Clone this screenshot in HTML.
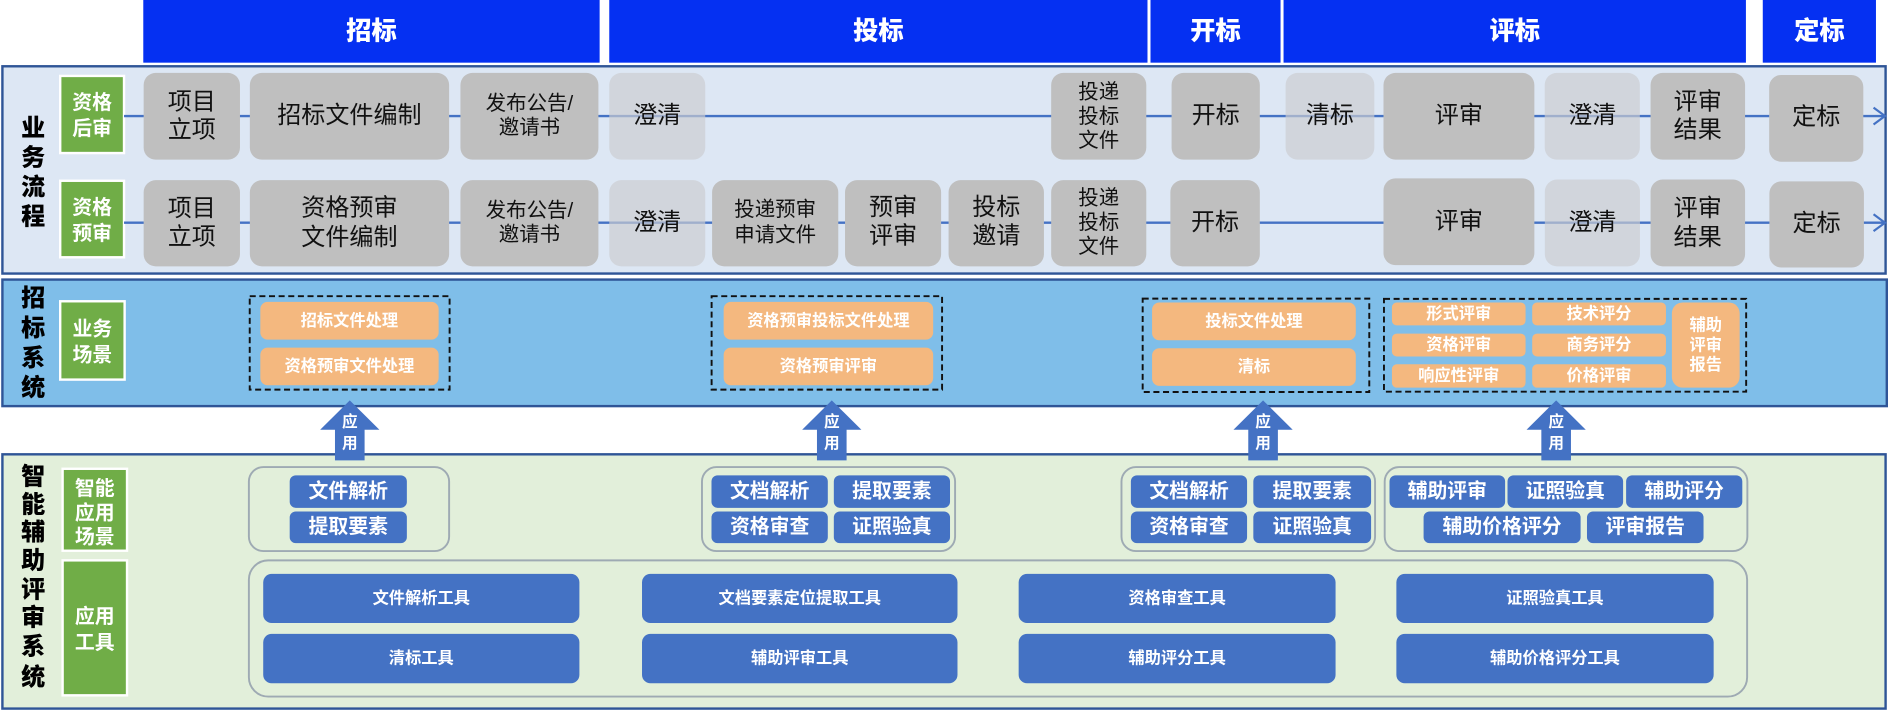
<!DOCTYPE html>
<html>
<head>
<meta charset="utf-8">
<style>
html,body{margin:0;padding:0;background:#fff;}
svg{display:block;}
text{font-family:"Liberation Sans","Noto Sans CJK SC",sans-serif;text-anchor:middle;dominant-baseline:central;}
.hd{font-size:21px;font-weight:900;fill:#fff;}
.vl{font-size:20px;font-weight:900;fill:#000;}
.gl{font-size:16.5px;font-weight:700;fill:#fff;}
.n{font-size:20px;fill:#111;}
.ns{font-size:17px;fill:#111;}
.or{font-size:13.5px;font-weight:700;fill:#fff;}
.bt{font-size:16.5px;font-weight:700;fill:#fff;}
.tl{font-size:13.5px;font-weight:700;fill:#fff;}
.ar{font-size:13px;font-weight:700;fill:#fff;}
.dk{fill:#bfbfbf;}
.lt{fill:#cbcdd0;fill-opacity:0.68;}
.gr{fill:#70ad47;stroke:#fff;stroke-width:2;}
.o{fill:#f4b87f;}
.b{fill:#4472c4;}
.dash{fill:none;stroke:#111;stroke-width:1.6;stroke-dasharray:5 3;}
.sc{fill:none;stroke:#9eaab3;stroke-width:1.6;}
</style>
</head>
<body>
<svg width="1888" height="711" viewBox="0 0 1568 590" preserveAspectRatio="none" xmlns="http://www.w3.org/2000/svg">
<rect x="0" y="0" width="1568" height="590" fill="#fff"/>

<!-- Headers -->
<rect x="119" y="0" width="379" height="52" fill="#0530f2"/>
<rect x="506" y="0" width="447" height="52" fill="#0530f2"/>
<rect x="955.5" y="0" width="108" height="52" fill="#0530f2"/>
<rect x="1066" y="0" width="384" height="52" fill="#0530f2"/>
<rect x="1464" y="0" width="94" height="52" fill="#0530f2"/>
<text class="hd" x="308.5" y="26">招标</text>
<text class="hd" x="729.5" y="26">投标</text>
<text class="hd" x="1009.5" y="26">开标</text>
<text class="hd" x="1258" y="26">评标</text>
<text class="hd" x="1511" y="26">定标</text>

<!-- Panel 1: 业务流程 -->
<rect x="2" y="55" width="1564" height="172" fill="#dde7f4" stroke="#2f5597" stroke-width="2"/>
<text class="vl" x="27.5" y="106.5">业</text>
<text class="vl" x="27.5" y="131">务</text>
<text class="vl" x="27.5" y="155.5">流</text>
<text class="vl" x="27.5" y="180">程</text>

<rect class="gr" x="50" y="63" width="53" height="64"/>
<text class="gl" x="76.5" y="85.5">资格</text>
<text class="gl" x="76.5" y="107">后审</text>
<rect class="gr" x="50" y="150" width="53" height="63.5"/>
<text class="gl" x="76.5" y="172.5">资格</text>
<text class="gl" x="76.5" y="194">预审</text>

<!-- connector lines -->
<line x1="103" y1="96.3" x2="1565" y2="96.3" stroke="#4472c4" stroke-width="2"/>
<line x1="103" y1="184.8" x2="1565" y2="184.8" stroke="#4472c4" stroke-width="2"/>
<polyline points="1556,89.3 1565.5,96.3 1556,103.3" fill="none" stroke="#4472c4" stroke-width="1.8"/>
<polyline points="1556,177.8 1565.5,184.8 1556,191.8" fill="none" stroke="#4472c4" stroke-width="1.8"/>

<!-- Row 1 nodes -->
<rect class="dk" x="119.3" y="60.5" width="80" height="72" rx="10"/>
<text class="n" x="159.3" y="84.5">项目</text>
<text class="n" x="159.3" y="108">立项</text>
<rect class="dk" x="207.5" y="60.5" width="165.5" height="72" rx="10"/>
<text class="n" x="290.2" y="96">招标文件编制</text>
<rect class="dk" x="382.4" y="60.5" width="114.6" height="72" rx="10"/>
<text class="ns" x="439.7" y="86">发布公告/</text>
<text class="ns" x="439.7" y="106">邀请书</text>
<rect class="lt" x="506" y="60.5" width="79.7" height="72" rx="10"/>
<text class="n" x="545.8" y="96">澄清</text>
<rect class="dk" x="873" y="60.5" width="79" height="72" rx="10"/>
<text class="ns" x="912.5" y="76.5">投递</text>
<text class="ns" x="912.5" y="96.5">投标</text>
<text class="ns" x="912.5" y="116.5">文件</text>
<rect class="dk" x="973" y="60.5" width="73.3" height="72" rx="10"/>
<text class="n" x="1009.6" y="96">开标</text>
<rect class="lt" x="1067.7" y="60.5" width="73.7" height="72" rx="10"/>
<text class="n" x="1104.5" y="96">清标</text>
<rect class="dk" x="1149" y="60.5" width="125.3" height="72" rx="10"/>
<text class="n" x="1211.6" y="96">评审</text>
<rect class="lt" x="1282.9" y="60.5" width="79" height="72" rx="10"/>
<text class="n" x="1322.4" y="96">澄清</text>
<rect class="dk" x="1370.8" y="60.5" width="78.5" height="72" rx="10"/>
<text class="n" x="1410" y="84.5">评审</text>
<text class="n" x="1410" y="108">结果</text>
<rect class="dk" x="1469.3" y="62.2" width="78.2" height="72" rx="10"/>
<text class="n" x="1508.4" y="97">定标</text>

<!-- Row 2 nodes -->
<rect class="dk" x="119.3" y="149.5" width="80" height="71.5" rx="10"/>
<text class="n" x="159.3" y="173">项目</text>
<text class="n" x="159.3" y="196.5">立项</text>
<rect class="dk" x="207.5" y="149.5" width="165.5" height="71.5" rx="10"/>
<text class="n" x="290.2" y="172.5">资格预审</text>
<text class="n" x="290.2" y="197">文件编制</text>
<rect class="dk" x="382.4" y="149.5" width="114.6" height="71.5" rx="10"/>
<text class="ns" x="439.7" y="174.5">发布公告/</text>
<text class="ns" x="439.7" y="194.5">邀请书</text>
<rect class="lt" x="506" y="149.5" width="79.7" height="71.5" rx="10"/>
<text class="n" x="545.8" y="184.5">澄清</text>
<rect class="dk" x="591.4" y="149.5" width="104.8" height="71.5" rx="10"/>
<text class="ns" x="643.8" y="174">投递预审</text>
<text class="ns" x="643.8" y="195">申请文件</text>
<rect class="dk" x="701.8" y="149.5" width="79.8" height="71.5" rx="10"/>
<text class="n" x="741.7" y="172">预审</text>
<text class="n" x="741.7" y="196">评审</text>
<rect class="dk" x="787.8" y="149.5" width="79.2" height="71.5" rx="10"/>
<text class="n" x="827.4" y="172">投标</text>
<text class="n" x="827.4" y="196">邀请</text>
<rect class="dk" x="873" y="149.5" width="79" height="71.5" rx="10"/>
<text class="ns" x="912.5" y="164.5">投递</text>
<text class="ns" x="912.5" y="184.5">投标</text>
<text class="ns" x="912.5" y="204.5">文件</text>
<rect class="dk" x="972" y="149.5" width="74.3" height="71.5" rx="10"/>
<text class="n" x="1009.1" y="184.5">开标</text>
<rect class="dk" x="1149" y="148" width="125.3" height="72" rx="10"/>
<text class="n" x="1211.6" y="184">评审</text>
<rect class="lt" x="1283" y="149" width="79" height="72" rx="10"/>
<text class="n" x="1322.5" y="184.5">澄清</text>
<rect class="dk" x="1370.8" y="149" width="78.5" height="72" rx="10"/>
<text class="n" x="1410" y="173">评审</text>
<text class="n" x="1410" y="197">结果</text>
<rect class="dk" x="1469.5" y="150.5" width="78.5" height="71.5" rx="10"/>
<text class="n" x="1508.7" y="185.5">定标</text>

<!-- Panel 2: 招标系统 -->
<rect x="2" y="232" width="1565" height="105" fill="#7fbee9" stroke="#2f5597" stroke-width="2"/>
<text class="vl" x="27.5" y="247.6">招</text>
<text class="vl" x="27.5" y="272.4">标</text>
<text class="vl" x="27.5" y="297.3">系</text>
<text class="vl" x="27.5" y="322">统</text>
<rect class="gr" x="50" y="250" width="53.5" height="65"/>
<text class="gl" x="76.7" y="273.5">业务</text>
<text class="gl" x="76.7" y="295">场景</text>

<rect class="dash" x="207.4" y="245.8" width="166" height="77.5"/>
<rect class="o" x="216.2" y="250.5" width="148.1" height="31.3" rx="6"/>
<text class="or" x="290.2" y="266.2">招标文件处理</text>
<rect class="o" x="216.2" y="288.5" width="148.1" height="31.2" rx="6"/>
<text class="or" x="290.2" y="304">资格预审文件处理</text>

<rect class="dash" x="591" y="245.8" width="191.4" height="77.5"/>
<rect class="o" x="601" y="250.5" width="174" height="31.3" rx="6"/>
<text class="or" x="688" y="266.2">资格预审投标文件处理</text>
<rect class="o" x="601" y="288.5" width="174" height="31.2" rx="6"/>
<text class="or" x="688" y="304">资格预审评审</text>

<rect class="dash" x="949" y="247.8" width="188.2" height="77.5"/>
<rect class="o" x="956.8" y="251" width="169.2" height="31.3" rx="6"/>
<text class="or" x="1041.4" y="266.6">投标文件处理</text>
<rect class="o" x="956.8" y="289" width="169.2" height="31.2" rx="6"/>
<text class="or" x="1041.4" y="304.6">清标</text>

<rect class="dash" x="1149.4" y="248" width="300.8" height="77"/>
<rect class="o" x="1156" y="251" width="111" height="19" rx="4"/>
<text class="or" x="1211.5" y="260.5">形式评审</text>
<rect class="o" x="1272.5" y="251" width="111.1" height="19" rx="4"/>
<text class="or" x="1328" y="260.5">技术评分</text>
<rect class="o" x="1156" y="276.8" width="111" height="19" rx="4"/>
<text class="or" x="1211.5" y="286.3">资格评审</text>
<rect class="o" x="1272.5" y="276.8" width="111.1" height="19" rx="4"/>
<text class="or" x="1328" y="286.3">商务评分</text>
<rect class="o" x="1156" y="302.3" width="111" height="19.4" rx="4"/>
<text class="or" x="1211.5" y="312">响应性评审</text>
<rect class="o" x="1272.5" y="302.3" width="111.1" height="19.4" rx="4"/>
<text class="or" x="1328" y="312">价格评审</text>
<rect class="o" x="1388.5" y="251" width="56.3" height="70.7" rx="9"/>
<text class="or" x="1416.6" y="270">辅助</text>
<text class="or" x="1416.6" y="286.6">评审</text>
<text class="or" x="1416.6" y="303">报告</text>

<!-- Panel 3: 智能辅助评审系统 -->
<rect x="2" y="377" width="1564" height="211" fill="#e2efda" stroke="#2f5597" stroke-width="2"/>
<text class="vl" x="27.5" y="396">智</text>
<text class="vl" x="27.5" y="419">能</text>
<text class="vl" x="27.5" y="442">辅</text>
<text class="vl" x="27.5" y="465.5">助</text>
<text class="vl" x="27.5" y="489.5">评</text>
<text class="vl" x="27.5" y="513">审</text>
<text class="vl" x="27.5" y="537">系</text>
<text class="vl" x="27.5" y="562">统</text>

<rect class="gr" x="52" y="389" width="53.5" height="68"/>
<text class="gl" x="78.7" y="405.6">智能</text>
<text class="gl" x="78.7" y="426">应用</text>
<text class="gl" x="78.7" y="446">场景</text>
<rect class="gr" x="52" y="465" width="53.5" height="112"/>
<text class="gl" x="78.7" y="512">应用</text>
<text class="gl" x="78.7" y="533.5">工具</text>

<!-- scenario groups -->
<rect class="sc" x="206.7" y="387.6" width="166.3" height="69.7" rx="12"/>
<rect class="b" x="240.6" y="394.5" width="97.3" height="26.9" rx="5"/>
<text class="bt" x="289.2" y="408">文件解析</text>
<rect class="b" x="240.6" y="424.4" width="97.3" height="26.3" rx="5"/>
<text class="bt" x="289.2" y="437.5">提取要素</text>

<rect class="sc" x="583" y="387.6" width="210.2" height="69.7" rx="12"/>
<rect class="b" x="590.9" y="394.5" width="96.6" height="26.9" rx="5"/>
<text class="bt" x="639.2" y="408">文档解析</text>
<rect class="b" x="692.5" y="394.5" width="96.5" height="26.9" rx="5"/>
<text class="bt" x="740.7" y="408">提取要素</text>
<rect class="b" x="590.9" y="424.4" width="96.6" height="26.3" rx="5"/>
<text class="bt" x="639.2" y="437.5">资格审查</text>
<rect class="b" x="692.5" y="424.4" width="96.5" height="26.3" rx="5"/>
<text class="bt" x="740.7" y="437.5">证照验真</text>

<rect class="sc" x="931.4" y="387.6" width="210.6" height="69.7" rx="12"/>
<rect class="b" x="939.2" y="394.5" width="96.5" height="26.9" rx="5"/>
<text class="bt" x="987.5" y="408">文档解析</text>
<rect class="b" x="1040.9" y="394.5" width="97.8" height="26.9" rx="5"/>
<text class="bt" x="1089.8" y="408">提取要素</text>
<rect class="b" x="939.2" y="424.4" width="96.5" height="26.3" rx="5"/>
<text class="bt" x="987.5" y="437.5">资格审查</text>
<rect class="b" x="1040.9" y="424.4" width="97.8" height="26.3" rx="5"/>
<text class="bt" x="1089.8" y="437.5">证照验真</text>

<rect class="sc" x="1150" y="387.6" width="301.2" height="69.7" rx="12"/>
<rect class="b" x="1154" y="394.5" width="96" height="26.9" rx="5"/>
<text class="bt" x="1202" y="408">辅助评审</text>
<rect class="b" x="1252" y="394.5" width="96" height="26.9" rx="5"/>
<text class="bt" x="1300" y="408">证照验真</text>
<rect class="b" x="1350.5" y="394.5" width="96.5" height="26.9" rx="5"/>
<text class="bt" x="1398.7" y="408">辅助评分</text>
<rect class="b" x="1182.3" y="424.4" width="130.4" height="26.3" rx="5"/>
<text class="bt" x="1247.5" y="437.5">辅助价格评分</text>
<rect class="b" x="1318" y="424.4" width="96.8" height="26.3" rx="5"/>
<text class="bt" x="1366.4" y="437.5">评审报告</text>

<!-- tools -->
<rect class="sc" x="206.7" y="465" width="1244.3" height="113" rx="16"/>
<rect class="b" x="218.6" y="476.2" width="262.6" height="40.8" rx="7"/>
<text class="tl" x="349.9" y="496.6">文件解析工具</text>
<rect class="b" x="533.2" y="476.2" width="262" height="40.8" rx="7"/>
<text class="tl" x="664.2" y="496.6">文档要素定位提取工具</text>
<rect class="b" x="846" y="476.2" width="263.2" height="40.8" rx="7"/>
<text class="tl" x="977.6" y="496.6">资格审查工具</text>
<rect class="b" x="1159.7" y="476.2" width="263.5" height="40.8" rx="7"/>
<text class="tl" x="1291.4" y="496.6">证照验真工具</text>
<rect class="b" x="218.6" y="526" width="262.6" height="41" rx="7"/>
<text class="tl" x="349.9" y="546.5">清标工具</text>
<rect class="b" x="533.2" y="526" width="262" height="41" rx="7"/>
<text class="tl" x="664.2" y="546.5">辅助评审工具</text>
<rect class="b" x="846" y="526" width="263.2" height="41" rx="7"/>
<text class="tl" x="977.6" y="546.5">辅助评分工具</text>
<rect class="b" x="1159.7" y="526" width="263.5" height="41" rx="7"/>
<text class="tl" x="1291.4" y="546.5">辅助价格评分工具</text>

<!-- 应用 arrows -->
<polygon class="b" points="290.5,332.2 315.1,356.6 302.8,356.6 302.8,382 278.2,382 278.2,356.6 265.9,356.6"/>
<text class="ar" x="290.5" y="350.5">应</text>
<text class="ar" x="290.5" y="368.5">用</text>
<polygon class="b" points="690.8,332.2 715.4,356.6 703.1,356.6 703.1,382 678.5,382 678.5,356.6 666.2,356.6"/>
<text class="ar" x="690.8" y="350.5">应</text>
<text class="ar" x="690.8" y="368.5">用</text>
<polygon class="b" points="1049,332.2 1073.6,356.6 1061.3,356.6 1061.3,382 1036.7,382 1036.7,356.6 1024.4,356.6"/>
<text class="ar" x="1049" y="350.5">应</text>
<text class="ar" x="1049" y="368.5">用</text>
<polygon class="b" points="1292.4,332.2 1317,356.6 1304.7,356.6 1304.7,382 1280.1,382 1280.1,356.6 1267.8,356.6"/>
<text class="ar" x="1292.4" y="350.5">应</text>
<text class="ar" x="1292.4" y="368.5">用</text>
</svg>
</body>
</html>
